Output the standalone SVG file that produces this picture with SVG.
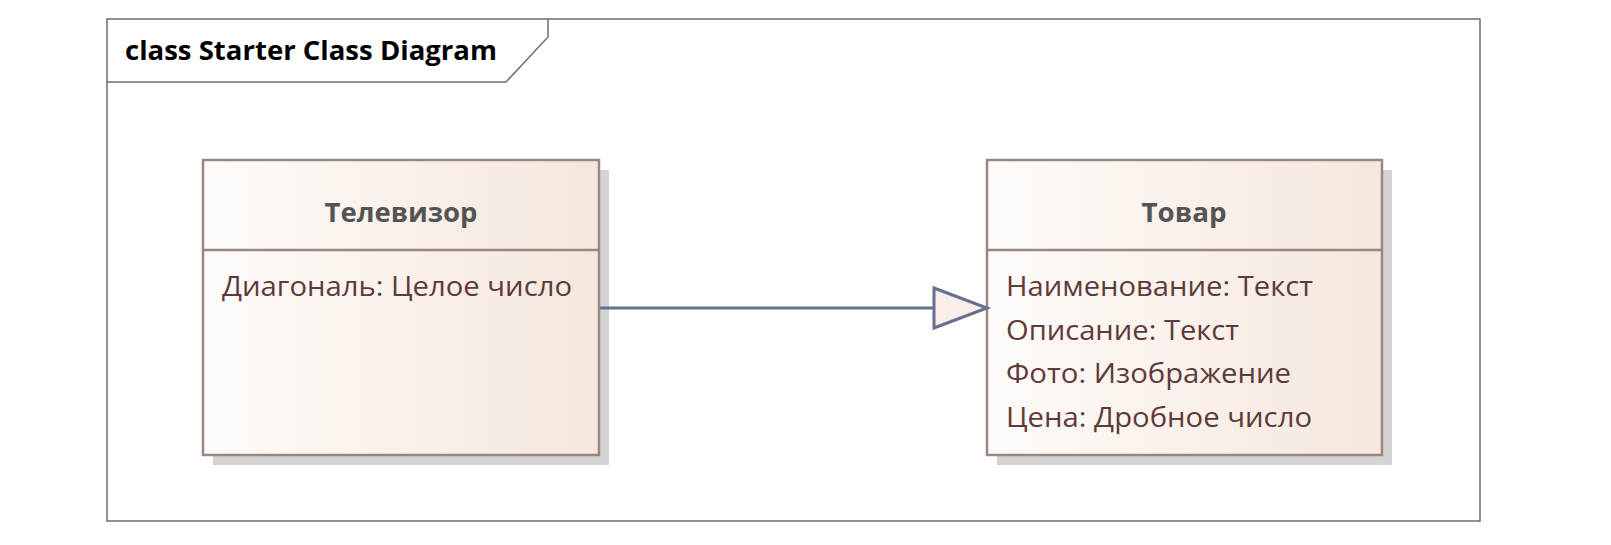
<svg xmlns="http://www.w3.org/2000/svg" width="1611" height="545" viewBox="0 0 1611 545">
<defs>
<linearGradient id="cls" x1="0" y1="0" x2="1" y2="0">
<stop offset="0" stop-color="#fefbf9"/>
<stop offset="1" stop-color="#f4e7dc"/>
</linearGradient>
<style>
.frame{fill:#ffffff;stroke:#6e6e6e;stroke-width:1.5}
.shadow{fill:#d4d4d4}
.box{fill:url(#cls);stroke:#9c8585;stroke-width:2.5}
.div{stroke:#9c8585;stroke-width:2.5}
.name{font-family:"Open Sans","DejaVu Sans",sans-serif;font-weight:bold;font-size:27px;fill:#545454;text-anchor:middle}
.attr{font-family:"Open Sans","DejaVu Sans",sans-serif;font-size:28px;fill:#5e3a3a}
.title{font-family:"Open Sans","DejaVu Sans",sans-serif;font-weight:bold;font-size:27px;fill:#000000}
.conn{stroke:#67718f;stroke-width:3;fill:none}
.head{stroke:#67718f;stroke-width:3;fill:#f8eeea;stroke-linejoin:miter}
</style>
</defs>
<rect width="1611" height="545" fill="#ffffff"/>
<g id="frame">
<rect class="frame" x="107" y="19" width="1373" height="502"/>
<path d="M107 82 H506 L548 37 V19" fill="none" stroke="#6e6e6e" stroke-width="1.5"/>
<text class="title" x="125" y="60" textLength="372" lengthAdjust="spacingAndGlyphs">class Starter Class Diagram</text>
</g>
<g id="node-televizor">
<rect class="shadow" x="213" y="170" width="396" height="295"/>
<rect class="box" x="203" y="160" width="396" height="295"/>
<line class="div" x1="203" y1="250" x2="599" y2="250"/>
<text class="name" x="401" y="222" textLength="153" lengthAdjust="spacingAndGlyphs">Телевизор</text>
<text class="attr" x="222" y="296" textLength="350" lengthAdjust="spacingAndGlyphs">Диагональ: Целое число</text>
</g>
<g id="node-tovar">
<rect class="shadow" x="997" y="170" width="395" height="295"/>
<rect class="box" x="987" y="160" width="395" height="295"/>
<line class="div" x1="987" y1="250" x2="1382" y2="250"/>
<text class="name" x="1184" y="222" textLength="85" lengthAdjust="spacingAndGlyphs">Товар</text>
<text class="attr" x="1006" y="296" textLength="307" lengthAdjust="spacingAndGlyphs">Наименование: Текст</text>
<text class="attr" x="1006" y="339.5" textLength="233" lengthAdjust="spacingAndGlyphs">Описание: Текст</text>
<text class="attr" x="1006" y="383" textLength="285" lengthAdjust="spacingAndGlyphs">Фото: Изображение</text>
<text class="attr" x="1006" y="426.5" textLength="306" lengthAdjust="spacingAndGlyphs">Цена: Дробное число</text>
</g>
<g id="connectors">
<line class="conn" x1="600" y1="308" x2="934" y2="308"/>
<polygon class="head" points="934,288 987,308 934,328"/>
</g>
</svg>
